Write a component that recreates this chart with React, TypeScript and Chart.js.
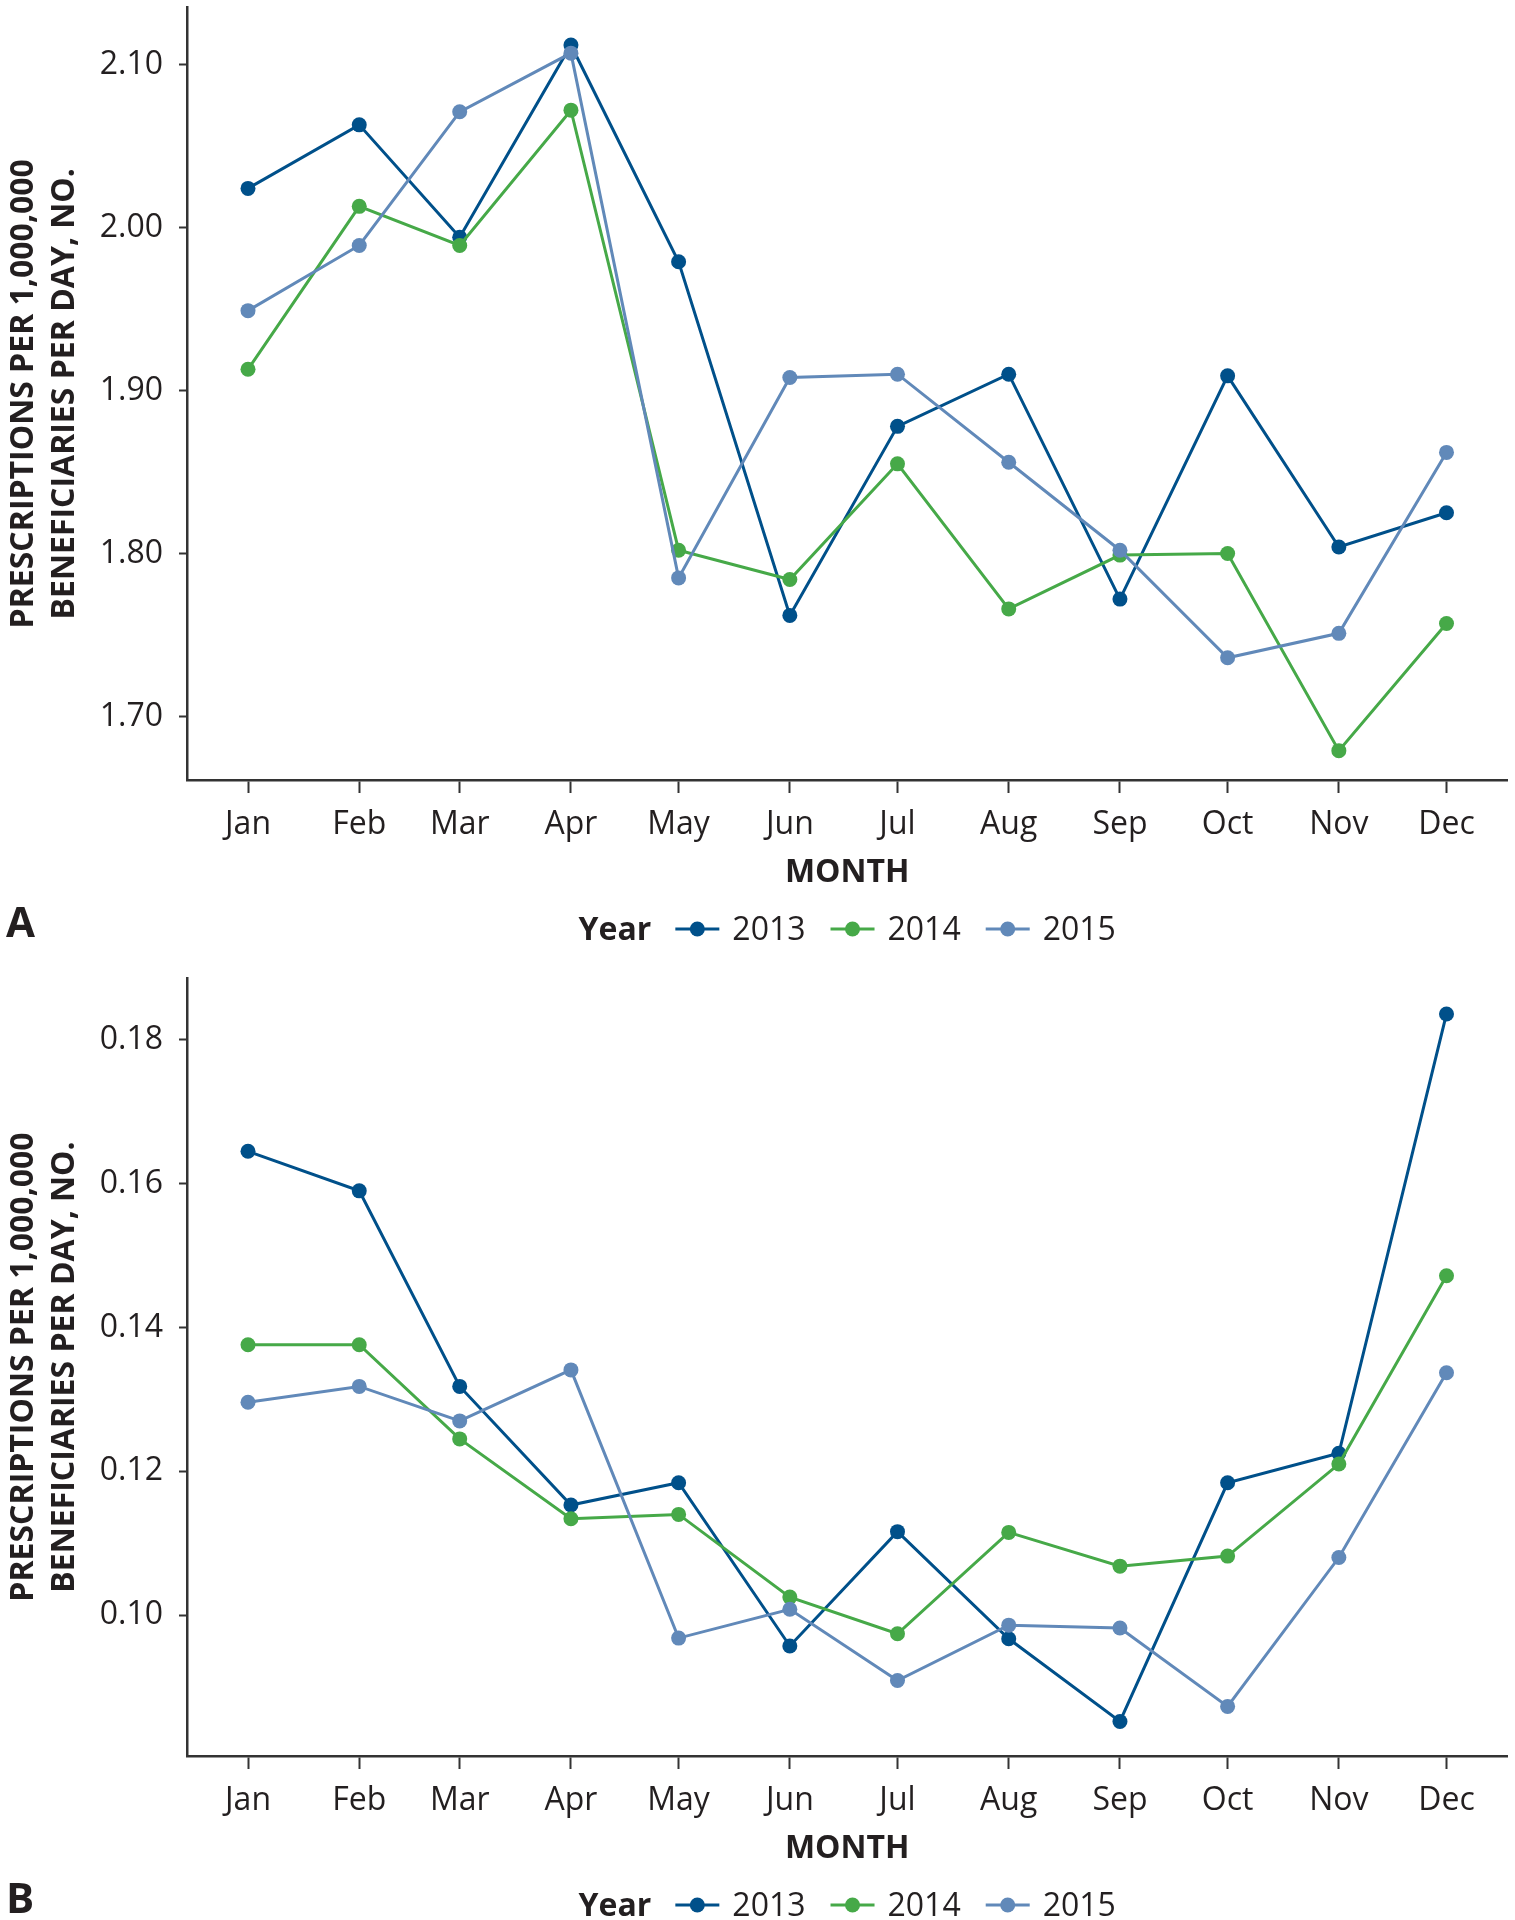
import React, { useEffect, useRef } from "react";
import { Chart, registerables } from "chart.js";

Chart.register(...registerables);

// ---------- data ----------
const MONTHS = ["Jan", "Feb", "Mar", "Apr", "May", "Jun", "Jul", "Aug", "Sep", "Oct", "Nov", "Dec"];
// day of year at the first of each month (x axis is a date axis)
const MONTH_DAYS = [0, 31, 59, 90, 120, 151, 181, 212, 243, 273, 304, 334];
const YEARS = ["2013", "2014", "2015"];
const COLORS = ["#00508a", "#46a948", "#6189b9"];

const A_2013 = [2.024, 2.063, 1.994, 2.112, 1.979, 1.762, 1.878, 1.910, 1.772, 1.909, 1.804, 1.825];
const A_2014 = [1.913, 2.013, 1.989, 2.072, 1.802, 1.784, 1.855, 1.766, 1.799, 1.800, 1.679, 1.757];
const A_2015 = [1.949, 1.989, 2.071, 2.107, 1.785, 1.908, 1.910, 1.856, 1.802, 1.736, 1.751, 1.862];

const B_2013 = [0.1645, 0.1590, 0.1318, 0.1153, 0.1184, 0.0957, 0.1116, 0.0967, 0.0852, 0.1184, 0.1225, 0.1836];
const B_2014 = [0.1376, 0.1376, 0.1245, 0.1134, 0.1140, 0.1025, 0.0974, 0.1115, 0.1068, 0.1082, 0.1210, 0.1472];
const B_2015 = [0.1296, 0.1318, 0.1270, 0.1341, 0.0968, 0.1008, 0.0909, 0.0986, 0.0982, 0.0873, 0.1080, 0.1337];

const A_TICKS = [1.7, 1.8, 1.9, 2.0, 2.1];
const B_TICKS = [0.1, 0.12, 0.14, 0.16, 0.18];

const Y_TITLE = ["PRESCRIPTIONS PER 1,000,000", "BENEFICIARIES PER DAY, NO."];
const X_TITLE = "MONTH";
const LEGEND_TITLE = "Year";

const FONT = "'Open Sans', 'DejaVu Sans', sans-serif";
const TEXT = "#231f20";
const AXIS = "#333333";

const W = 1515;
const H = 960;

type PanelProps = {
  letter: string;
  series: number[][];
  yMin: number;
  yMax: number;
  yTicks: number[];
  padTop: number;
  xAxisHeight: number;
};

function Panel({ letter, series, yMin, yMax, yTicks, padTop, xAxisHeight }: PanelProps) {
  const ref = useRef<HTMLCanvasElement | null>(null);

  useEffect(() => {
    if (!ref.current) return;

    const extras = {
      id: "extras",
      afterDraw(chart: any) {
        const { ctx, chartArea } = chart;
        const cx = (chartArea.left + chartArea.right) / 2;
        const cy = (chartArea.top + chartArea.bottom) / 2;
        const b = chartArea.bottom;
        ctx.save();
        ctx.fillStyle = TEXT;
        ctx.textBaseline = "alphabetic";

        // y-axis title (two rotated lines)
        ctx.font = `bold 32px ${FONT}`;
        ctx.textAlign = "center";
        const baseXs = [33, 74];
        Y_TITLE.forEach((t, i) => {
          ctx.save();
          ctx.translate(baseXs[i], cy);
          ctx.rotate(-Math.PI / 2);
          ctx.fillText(t, 0, 0);
          ctx.restore();
        });

        // x-axis title
        ctx.fillText(X_TITLE, cx, b + 102);

        // panel letter
        ctx.textAlign = "left";
        ctx.font = `bold 42px ${FONT}`;
        ctx.fillText(letter, 6, b + 157);

        // legend
        const ly = b + 160;
        ctx.font = `bold 32px ${FONT}`;
        const titleW = ctx.measureText(LEGEND_TITLE).width;
        ctx.font = `32px ${FONT}`;
        const yearWs = YEARS.map((y) => ctx.measureText(y).width);
        const lineW = 44, g1 = 24, g2 = 13, g3 = 25;
        let total = titleW + g1;
        yearWs.forEach((w, i) => {
          total += lineW + g2 + w + (i < YEARS.length - 1 ? g3 : 0);
        });
        let x = cx - total / 2;
        ctx.font = `bold 32px ${FONT}`;
        ctx.fillText(LEGEND_TITLE, x, ly);
        x += titleW + g1;
        ctx.font = `32px ${FONT}`;
        YEARS.forEach((y, i) => {
          const my = ly - 11;
          ctx.strokeStyle = COLORS[i];
          ctx.lineWidth = 3;
          ctx.beginPath();
          ctx.moveTo(x, my);
          ctx.lineTo(x + lineW, my);
          ctx.stroke();
          ctx.fillStyle = COLORS[i];
          ctx.beginPath();
          ctx.arc(x + lineW / 2, my, 7.5, 0, Math.PI * 2);
          ctx.fill();
          x += lineW + g2;
          ctx.fillStyle = TEXT;
          ctx.fillText(y, x, ly);
          x += yearWs[i] + g3;
        });
        ctx.restore();
      },
    };

    // 2015 drawn on top, 2013 underneath
    const datasets = series.map((vals, i) => ({
      label: YEARS[i],
      data: vals.map((v, j) => ({ x: MONTH_DAYS[j], y: v })),
      borderColor: COLORS[i],
      backgroundColor: COLORS[i],
      pointBackgroundColor: COLORS[i],
      pointBorderColor: COLORS[i],
      pointBorderWidth: 0,
      pointRadius: 7.5,
      borderWidth: 3,
      tension: 0,
      order: YEARS.length - 1 - i,
    }));

    const chart = new Chart(ref.current, {
      type: "line",
      data: { datasets },
      options: {
        animation: false,
        responsive: false,
        devicePixelRatio: 1,
        layout: { padding: { top: padTop, right: 0, left: 0, bottom: 0 } },
        plugins: { legend: { display: false }, tooltip: { enabled: false }, title: { display: false } },
        scales: {
          x: {
            type: "linear",
            min: -17,
            max: 351,
            afterBuildTicks: (axis: any) => {
              axis.ticks = MONTH_DAYS.map((v) => ({ value: v }));
            },
            afterFit: (axis: any) => {
              axis.height = xAxisHeight;
              axis.paddingLeft = 0;
              axis.paddingRight = 0;
            },
            ticks: {
              autoSkip: false,
              maxRotation: 0,
              padding: 13,
              color: TEXT,
              font: { family: FONT, size: 32 },
              callback: (v: any) => MONTHS[MONTH_DAYS.indexOf(Number(v))] ?? "",
            },
            grid: {
              display: true,
              drawOnChartArea: false,
              drawTicks: true,
              tickLength: 13,
              tickColor: AXIS,
              tickWidth: 2,
            },
            border: { display: true, color: AXIS, width: 2.5 },
          },
          y: {
            type: "linear",
            min: yMin,
            max: yMax,
            afterBuildTicks: (axis: any) => {
              axis.ticks = yTicks.map((v) => ({ value: v }));
            },
            afterFit: (axis: any) => {
              axis.width = 187;
              axis.paddingTop = 0;
              axis.paddingBottom = 0;
            },
            ticks: {
              padding: 16,
              color: TEXT,
              font: { family: FONT, size: 32 },
              callback: (v: any) => Number(v).toFixed(2),
            },
            grid: {
              display: true,
              drawOnChartArea: false,
              drawTicks: true,
              tickLength: 8,
              tickColor: AXIS,
              tickWidth: 2,
            },
            border: { display: true, color: AXIS, width: 2.5 },
          },
        },
      },
      plugins: [extras],
    } as any);

    return () => chart.destroy();
  }, []);

  return <canvas ref={ref} width={W} height={H} style={{ display: "block", width: W, height: H }} />;
}

export default function App() {
  return (
    <div style={{ position: "absolute", left: 0, top: 0, width: W, height: 1920, background: "#fff" }}>
      <Panel
        letter="A"
        series={[A_2013, A_2014, A_2015]}
        yMin={1.661}
        yMax={2.135}
        yTicks={A_TICKS}
        padTop={6}
        xAxisHeight={180}
      />
      <Panel
        letter="B"
        series={[B_2013, B_2014, B_2015]}
        yMin={0.0804}
        yMax={0.1886}
        yTicks={B_TICKS}
        padTop={18}
        xAxisHeight={164}
      />
    </div>
  );
}
